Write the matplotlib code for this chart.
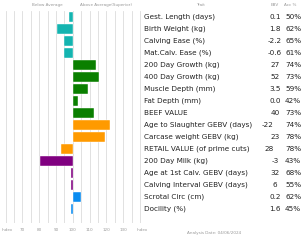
import matplotlib
matplotlib.use("Agg")
import matplotlib.pyplot as plt

traits = ["Gest. Length (days)", "Birth Weight (kg)", "Calving Ease (%)",
          "Mat.Calv. Ease (%)", "200 Day Growth (kg)", "400 Day Growth (kg)",
          "Muscle Depth (mm)", "Fat Depth (mm)", "BEEF VALUE",
          "Age to Slaughter GEBV (days)", "Carcase weight GEBV (kg)",
          "RETAIL VALUE (of prime cuts)", "200 Day Milk (kg)",
          "Age at 1st Calv. GEBV (days)", "Calving Interval GEBV (days)",
          "Scrotal Circ (cm)", "Docility (%)"]
ebv = ["0.1", "1.8", "-2.2", "-0.6", "27", "52", "3.5", "0.0", "40",
       "-22", "23", "28", "-3", "32", "6", "0.2", "1.6"]
acc = ["50%", "62%", "65%", "61%", "74%", "73%", "59%", "42%", "73%",
       "74%", "78%", "78%", "43%", "68%", "55%", "62%", "45%"]
index_values = [98, 90.5, 95, 95, 114, 115.5, 109, 103, 112.5,
                122, 119, 93, 80.5, 99.2, 99.2, 105, 99]
ticks = [70, 80, 90, 100, 110, 120, 130]

colors = (["#14B4B0"] * 4 + ["#0A7F00"] * 5 + ["#FF9A00"] * 3 +
          ["#800080"] * 3 + ["#0A8CF0"] * 2)

W, H = 302, 242
fig = plt.figure(figsize=(W / 100, H / 100), dpi=100)
fig.patch.set_facecolor("white")

def fx(px):
    return px / W

def fy(py):
    return 1 - py / H

ax = fig.add_axes([fx(0), fy(223), fx(142), (223 - 11) / H])
ppu = 1.68
x0 = 100 - 72.8 / ppu
x1 = x0 + 142 / ppu
ax.set_xlim(x0, x1)
n = len(traits)
ax.set_ylim((223 - 17) / 12, -0.5)

for g in range(60, 145, 5):
    ax.axvline(g, color="#dcdcdc", lw=0.6, zorder=0)

ypos = list(range(n))
ax.barh(ypos, [v - 100 for v in index_values], left=100, height=0.85,
        color=colors, edgecolor="white", linewidth=0.3, zorder=2)
ax.axis("off")

fs = 5.2
fam = "DejaVu Sans"
ebv_x = [275] * n
ebv_x[9] = 267.5
ebv_x[11] = 269.5
for i in range(n):
    yy = fy(17 + 12 * i)
    fig.text(fx(144), yy, traits[i], fontsize=fs, family=fam, color="#222222",
             va="center", ha="left")
    fig.text(fx(ebv_x[i]), yy, ebv[i], fontsize=fs, family=fam, color="#222222",
             va="center", ha="center")
    fig.text(fx(285), yy, acc[i], fontsize=fs, family=fam, color="#222222",
             va="center", ha="left")

hs = 3.0
hc = "#999999"
fig.text(fx(47), fy(5), "Below Average", fontsize=hs, family=fam, color=hc,
         ha="center", va="center")
fig.text(fx(106), fy(5), "Above Average(Superior)", fontsize=hs, family=fam,
         color=hc, ha="center", va="center")
fig.text(fx(200), fy(5), "Trait", fontsize=hs, family=fam, color=hc,
         ha="center", va="center")
fig.text(fx(275), fy(5), "EBV", fontsize=hs, family=fam, color=hc,
         ha="center", va="center")
fig.text(fx(290), fy(5), "Acc %", fontsize=hs, family=fam, color=hc,
         ha="center", va="center")

for t in ticks:
    xp = 72.8 + (t - 100) * ppu
    fig.text(fx(xp), fy(230), str(t), fontsize=hs, family=fam, color=hc,
             ha="center", va="center")
fig.text(fx(7), fy(230), "Index", fontsize=hs, family=fam, color=hc,
         ha="center", va="center")
fig.text(fx(142), fy(230), "Index", fontsize=hs, family=fam, color=hc,
         ha="center", va="center")
fig.text(fx(214), fy(233), "Analysis Date: 04/06/2024", fontsize=hs, family=fam,
         color=hc, ha="center", va="center")

fig.savefig("out.png", dpi=100, facecolor="white")
